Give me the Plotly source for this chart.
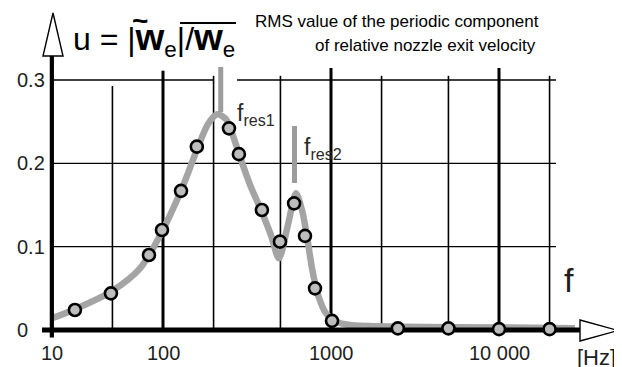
import numpy as np
import plotly.graph_objects as go

# ---------------- data ----------------
# measured points: frequency [Hz] and u = RMS of periodic component / mean
pts_f = [29.9, 49, 82.5, 98.6, 128, 159, 247, 283, 388, 497, 603, 700, 803, 1014, 2500, 5000, 10000, 20000]
pts_u = [0.024, 0.044, 0.090, 0.120, 0.167, 0.220, 0.242, 0.211, 0.144, 0.106, 0.152, 0.113, 0.050, 0.011, 0.002, 0.002, 0.001, 0.001]

# fitted curve (thick grey line)
curve_f = [21.8, 29.9, 49.0, 73.0, 98.6, 128, 159, 185, 210, 237, 258, 287, 330, 383, 439, 490, 554, 619, 672, 720, 771, 837, 934, 1071, 1298, 2576, 10140, 28300]
curve_u = [0.014, 0.025, 0.046, 0.074, 0.118, 0.167, 0.216, 0.247, 0.259, 0.253, 0.236, 0.208, 0.174, 0.144, 0.114, 0.086, 0.126, 0.164, 0.144, 0.112, 0.074, 0.042, 0.020, 0.010, 0.006, 0.004, 0.003, 0.002]

# resonance frequencies (grey bars) and their extents
fres_f = [220.6, 606.5]
fres_lo = [0.2616, 0.1764]
fres_hi = [0.3156, 0.2448]
fres_names = ["res1", "res2"]

# axis / ticks
x_origin = 21.8                      # where the axes cross (labelled "10")
x_tickvals = [x_origin, 100, 1000, 10000]
x_ticktext = ["10", "100", "1000", "10 000"]
y_tickvals = [0, 0.1, 0.2, 0.3]
y_ticktext = ["0", "0.1", "0.2", "0.3"]
grid_major = [100, 1000, 10000]
grid_minor = [50, 200, 500, 2000, 5000, 20000]
grid_h = [0.1, 0.2, 0.3]

# the page body has an 8px margin: the figure is drawn 8px in from the top-left
OFF = 8
W, H = 622 - OFF, 367 - OFF
X_RANGE = [2 - (163 - OFF) / 168, 2 + 459 / 168]
Y_RANGE = [(330 - 367) / 833.33, (330 - OFF) / 833.33]

SANS = "Liberation Sans, Arial, Helvetica, sans-serif"
TXT = "#1e1e1e"

fig = go.Figure()


def seg_trace(xs, ys, width, color="black"):
    fig.add_trace(go.Scatter(x=xs, y=ys, mode="lines", line=dict(color=color, width=width),
                             hoverinfo="skip", showlegend=False))


# horizontal grid
x_grid_end = 21840
hx, hy = [], []
for g in grid_h:
    if g == 0.3:
        hx += [x_origin, 201, None, 276, x_grid_end, None]
        hy += [g, g, None, g, g, None]
    else:
        hx += [x_origin, x_grid_end, None]
        hy += [g, g, None]
seg_trace(hx, hy, 1.4)

# vertical minor grid
vx, vy = [], []
for g in grid_minor:
    top = 0.2928 if g == 50 else 0.305
    vx += [g, g, None]
    vy += [0, top, None]
seg_trace(vx, vy, 1.6)

# vertical major grid
vx, vy = [], []
for g in grid_major:
    top = 0.311 if g == 100 else 0.3144
    vx += [g, g, None]
    vy += [0, top, None]
seg_trace(vx, vy, 3)

# grey curve
fig.add_trace(go.Scatter(x=curve_f, y=curve_u, mode="lines",
                         line=dict(color="#a4a4a4", width=6.5, shape="spline", smoothing=0.8),
                         hoverinfo="skip", showlegend=False))

# axes lines
seg_trace([19.05, 30340], [0, 0], 4.8)
seg_trace([x_origin, x_origin], [-0.009, 0.3288], 4.2)

# resonance bars
for f, lo, hi in zip(fres_f, fres_lo, fres_hi):
    seg_trace([f, f], [lo, hi], 5, "#9c9c9c")

# measured points
fig.add_trace(go.Scatter(x=pts_f, y=pts_u, mode="markers",
                         marker=dict(size=12, color="#bdbdbd", line=dict(color="black", width=2.6)),
                         hoverinfo="skip", showlegend=False))


# reference-pixel -> paper coordinates
def P(px, py):
    return (px - OFF) / W, 1 - (py - OFF) / H


def tri(pts):
    d = "M " + " L ".join(f"{P(a, b)[0]:.5f},{P(a, b)[1]:.5f}" for a, b in pts) + " Z"
    fig.add_shape(type="path", path=d, xref="paper", yref="paper",
                  line=dict(color="black", width=1.4), fillcolor="white", layer="above")


tri([(53, 13), (43, 56), (63, 56)])
tri([(580, 320), (618, 330.5), (580, 341)])

ann = []
# tick labels
for v, t in zip(x_tickvals, x_ticktext):
    ann.append(dict(x=np.log10(v), y=-0.027, xref="x", yref="y", text=t, showarrow=False,
                    xanchor="center", yanchor="middle", font=dict(family=SANS, size=20, color=TXT)))
for v, t in zip(y_tickvals, y_ticktext):
    ann.append(dict(x=P(15, 0)[0], y=v, xref="paper", yref="y", text=t, showarrow=False,
                    xanchor="left", yanchor="middle", font=dict(family=SANS, size=20, color=TXT)))

# resonance labels
lab_pos = [(235, 115), (302, 148)]
for (px, py), nm in zip(lab_pos, fres_names):
    x, y = P(px, py)
    ann.append(dict(x=x, y=y, xref="paper", yref="paper", text=f"f<sub>{nm}</sub>", showarrow=False,
                    xanchor="left", yanchor="middle", font=dict(family=SANS, size=23, color="#2a2a2a")))

# axis labels
x, y = P(569, 280)
ann.append(dict(x=x, y=y, xref="paper", yref="paper", text="f", showarrow=False,
                xanchor="center", yanchor="middle", font=dict(family=SANS, size=34, color=TXT)))
x, y = P(596, 357)
ann.append(dict(x=x, y=y, xref="paper", yref="paper", text="[Hz]", showarrow=False,
                xanchor="center", yanchor="middle", font=dict(family=SANS, size=22, color=TXT)))

# equation  u = |w~_e| / w-bar_e
W_BIG = "<span style='font-weight:bold;font-size:37px'>w</span>"
x, y = P(71, 40)
ann.append(dict(x=x, y=y, xref="paper", yref="paper",
                text=f"u = |{W_BIG}<sub>e</sub>|/{W_BIG}<sub>e</sub>", showarrow=False,
                xanchor="left", yanchor="middle", font=dict(family=SANS, size=32, color="black")))
# tilde over the first w
x, y = P(140, 20)
ann.append(dict(x=x, y=y, xref="paper", yref="paper", text="<b>~</b>", showarrow=False,
                xanchor="center", yanchor="middle", font=dict(family=SANS, size=28, color="black")))
# overline of the mean velocity
x0, y0 = P(180, 23)
x1, _ = P(236, 23)
fig.add_shape(type="line", x0=x0, x1=x1, y0=y0, y1=y0, xref="paper", yref="paper",
              line=dict(color="black", width=2.2))

# title lines
x, y = P(253, 22)
ann.append(dict(x=x, y=y, xref="paper", yref="paper", text="RMS value of the periodic component",
                showarrow=False, xanchor="left", yanchor="middle",
                font=dict(family=SANS, size=17, color="black")))
x, y = P(538, 45)
ann.append(dict(x=x, y=y, xref="paper", yref="paper", text="of relative nozzle exit velocity",
                showarrow=False, xanchor="right", yanchor="middle",
                font=dict(family=SANS, size=17, color="black")))

fig.update_layout(
    width=W, height=H, margin=dict(l=0, r=0, t=0, b=0),
    paper_bgcolor="white", plot_bgcolor="white",
    xaxis=dict(type="log", range=X_RANGE, visible=False, fixedrange=True),
    yaxis=dict(range=Y_RANGE, visible=False, fixedrange=True),
    annotations=ann, showlegend=False,
)

fig.write_html("out.html")
